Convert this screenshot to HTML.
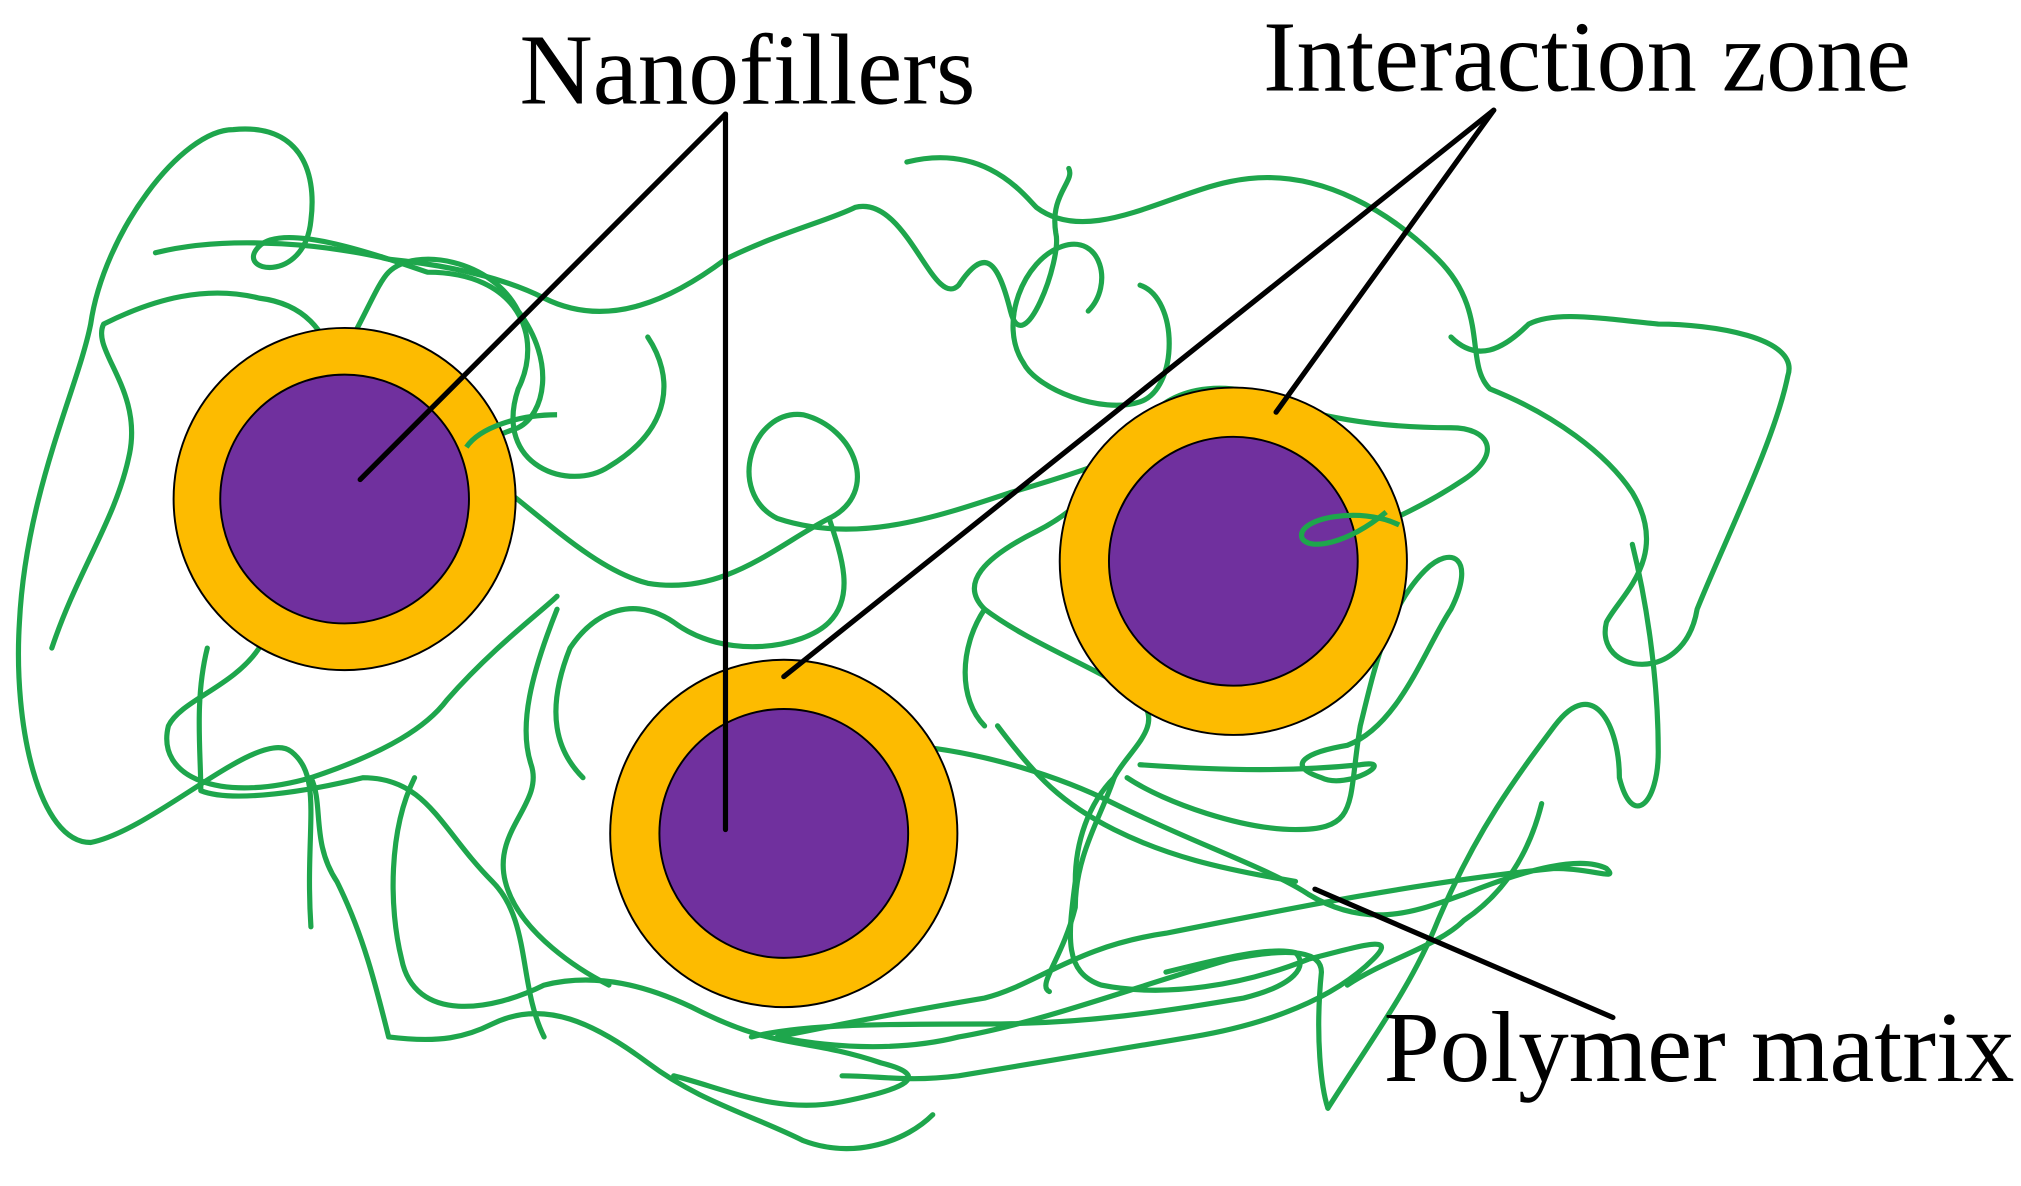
<!DOCTYPE html>
<html><head><meta charset="utf-8"><style>html,body{margin:0;padding:0;background:#fff;}svg{display:block}</style></head>
<body>
<svg width="2021" height="1186" viewBox="0 0 1560 915" preserveAspectRatio="none" xmlns="http://www.w3.org/2000/svg">
<g fill="none" stroke="#1ea64c" stroke-width="4" stroke-linejoin="round" stroke-linecap="round">
<path d="M240,715 C235,640 250,600 225,580 C200,560 120,640 70,650 C30,650 10,560 15,480 C20,380 60,300 70,250 C80,180 140,100 180,100 C230,95 245,130 240,170 C235,220 180,210 200,190 C220,170 300,200 330,210 C400,210 420,260 400,300 C380,360 440,380 470,360 C520,330 520,290 500,260"/>
<path d="M120,195 C180,180 260,190 300,200 C350,205 390,215 420,230 C470,255 520,230 560,200 C600,180 640,170 660,160 C700,150 720,240 740,220 C760,190 770,200 780,240 C790,280 820,200 815,180 C810,150 830,140 825,130"/>
<path d="M40,500 C60,440 90,400 100,350 C110,300 70,270 80,250 C120,230 160,220 200,230 C240,235 250,260 260,280 C280,250 290,220 300,210 C320,190 380,200 400,240 C430,280 420,320 400,330 C370,340 360,350 380,370 C420,400 460,440 500,450 C560,460 600,420 640,400 C680,380 660,330 620,320 C580,315 560,380 600,400 C660,420 720,400 780,380 C850,360 900,340 940,320"/>
<path d="M200,500 C180,530 140,540 130,560 C120,600 170,620 240,600 C300,580 330,560 345,540 C380,500 420,470 430,460"/>
<path d="M700,125 C760,110 790,150 800,160 C840,190 900,150 950,140 C1020,125 1080,170 1110,200 C1150,240 1130,280 1150,300 C1200,320 1240,350 1260,380 C1290,430 1250,460 1240,480 C1230,520 1300,530 1310,470 C1330,420 1370,340 1380,290 C1390,260 1320,250 1280,250 C1230,245 1200,240 1180,250 C1160,270 1140,280 1120,260"/>
<path d="M1050,390 C1000,400 990,420 1020,420 C1060,410 1100,390 1130,370 C1160,350 1150,330 1120,330 C1060,330 1010,320 990,310 C940,290 900,300 880,330 C850,380 820,400 800,410 C760,430 740,450 760,470 C800,500 860,520 880,540 C900,560 870,580 860,600 C850,630 830,660 830,700 C820,740 800,760 810,765"/>
<path d="M880,590 C950,595 1000,595 1050,590 C1080,585 1040,610 1020,600 C990,590 1010,580 1040,575 C1080,560 1100,500 1120,470 C1140,430 1120,420 1100,440 C1070,470 1060,520 1050,560 C1040,620 1050,640 1000,640 C960,640 900,620 870,600"/>
<path d="M700,575 C760,580 820,600 860,620 C920,650 980,670 1010,690 C1060,720 1100,700 1130,690 C1180,670 1220,660 1240,670 C1250,680 1230,670 1200,670 C1100,680 1000,700 900,720 C830,730 800,760 760,770 C700,780 650,790 600,800 C650,810 700,810 740,800 C800,790 880,760 950,740 C1000,730 1020,735 1020,750 C1015,800 1020,840 1025,855"/>
<path d="M1025,855 C1060,800 1090,760 1110,710 C1140,640 1170,600 1200,560 C1230,520 1250,560 1250,600 C1260,640 1280,620 1280,580 C1280,520 1270,460 1260,420"/>
<path d="M430,470 C410,520 400,560 410,590 C420,620 380,640 390,680 C400,720 450,750 470,760"/>
<path d="M640,400 C650,430 660,460 640,480 C620,500 560,510 520,480 C490,460 460,470 440,500 C420,550 430,580 450,600"/>
<path d="M320,600 C300,640 300,700 310,740 C320,790 380,780 420,760 C460,750 500,760 540,780 C600,810 620,800 680,820 C720,830 700,840 650,850 C600,860 560,840 520,830"/>
<path d="M240,600 C250,620 240,650 260,680 C280,720 290,760 300,800 C340,805 360,800 380,790 C420,770 460,790 500,820 C540,850 580,860 620,880 C660,895 700,880 720,860"/>
<path d="M160,500 C150,540 155,580 155,610 C180,620 240,610 280,600 C330,600 340,640 380,680 C410,710 400,760 420,800"/>
<path d="M860,600 C840,620 830,650 830,680 C825,720 820,750 850,760 C900,770 960,760 1010,740 C1050,730 1080,720 1060,740 C1030,770 980,790 920,800 C860,810 800,820 740,830 C700,835 680,830 650,830"/>
<path d="M770,560 C800,600 820,620 860,640 C900,660 940,670 1000,680"/>
<path d="M580,800 C620,790 680,790 760,790 C840,790 900,780 960,770 C1000,760 1010,745 1000,735 C980,730 940,740 900,750"/>
<path d="M1190,620 C1180,660 1160,690 1130,710 C1110,730 1070,740 1040,760"/>
<path d="M760,470 C740,500 740,540 760,560"/>
<path d="M880,220 C910,230 910,300 880,310 C850,320 800,300 790,280 C770,250 790,200 820,190 C850,180 860,220 840,240"/>
</g>
<g stroke="#000" stroke-width="1.5">
<circle cx="266" cy="385" r="132" fill="#fdbb00"/>
<circle cx="266" cy="385" r="96" fill="#70309e"/>
<circle cx="605" cy="643" r="134" fill="#fdbb00"/>
<circle cx="605" cy="643" r="96" fill="#70309e"/>
<circle cx="952" cy="433" r="134" fill="#fdbb00"/>
<circle cx="952" cy="433" r="96" fill="#70309e"/>
</g>
<path d="M1080,405 C1050,390 1000,400 1005,415 C1010,425 1040,420 1070,395" fill="none" stroke="#1ea64c" stroke-width="4"/>
<path d="M360,345 C370,330 400,320 430,320" fill="none" stroke="#1ea64c" stroke-width="4"/>
<g stroke="#000" stroke-width="4" stroke-linecap="round">
<line x1="560" y1="88" x2="278" y2="370"/>
<line x1="560" y1="88" x2="560" y2="640"/>
<line x1="1153" y1="85" x2="605" y2="522"/>
<line x1="1153" y1="85" x2="985" y2="318"/>
<line x1="1015" y1="686" x2="1245" y2="785"/>
</g>
<g font-family="'Liberation Serif', serif" font-size="78" fill="#000">
<text x="401" y="80" textLength="352" lengthAdjust="spacingAndGlyphs">Nanofillers</text>
<text x="975" y="70" textLength="500" lengthAdjust="spacingAndGlyphs">Interaction zone</text>
<text x="1068" y="834" textLength="487" lengthAdjust="spacingAndGlyphs">Polymer matrix</text>
</g>
</svg>
</body></html>
